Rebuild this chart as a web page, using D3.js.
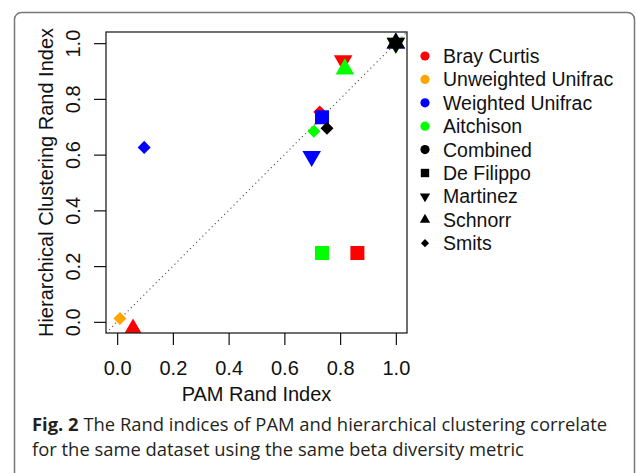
<!DOCTYPE html>
<html>
<head>
<meta charset="utf-8">
<script src="https://cdn.jsdelivr.net/npm/d3@7"></script>
<style>
  body { margin: 0; background: #fff; }
  svg { display: block; }
  text { font-family: "Liberation Sans", Arial, sans-serif; }
</style>
</head>
<body>
<svg id="chart"></svg>
<script>
// Rand index scatter - PAM vs hierarchical clustering

const width = 636;
const height = 473;

// Data
const metrics = ["Bray Curtis", "Unweighted Unifrac", "Weighted Unifrac", "Aitchison", "Combined"];
const metricColors = ["#ff0000", "#ffa500", "#0000ff", "#00ff00", "#000000"];
const methods = ["De Filippo", "Martinez", "Schnorr", "Smits"];
const methodShapes = ["square", "down", "up", "diamond"];

// one row per point: metric, method, PAM rand index, hierarchical rand index
const pointMetric = ["Bray Curtis", "Bray Curtis", "Bray Curtis", "Bray Curtis",
                     "Unweighted Unifrac",
                     "Weighted Unifrac", "Weighted Unifrac", "Weighted Unifrac", "Weighted Unifrac",
                     "Aitchison", "Aitchison", "Aitchison", "Aitchison",
                     "Combined", "Combined", "Combined"];
const pointMethod = ["De Filippo", "Martinez", "Schnorr", "Smits",
                     "Smits",
                     "De Filippo", "Martinez", "Schnorr", "Smits",
                     "De Filippo", "Martinez", "Schnorr", "Smits",
                     "Martinez", "Schnorr", "Smits"];
const pamRand = [0.862, 0.811, 0.057, 0.727,
                 0.010,
                 0.735, 0.698, 1.0, 0.097,
                 0.735, 1.0, 0.817, 0.706,
                 1.0, 1.0, 0.753];
const hierRand = [0.247, 0.937, -0.026, 0.753,
                  0.012,
                  0.734, 0.594, 1.0, 0.626,
                  0.247, 1.0, 0.907, 0.684,
                  1.0, 1.0, 0.695];

const xTicks = [0, 0.2, 0.4, 0.6, 0.8, 1.0];
const yTicks = [0, 0.2, 0.4, 0.6, 0.8, 1.0];

const points = pamRand.map((x, i) => ({
    x: x, y: hierRand[i], metric: pointMetric[i], method: pointMethod[i]
}));

// Layout
const plot = { left: 106, right: 407, top: 32, bottom: 333 };

const svg = d3.select("#chart")
    .attr("width", width)
    .attr("height", height);

// outer figure frame
svg.append("rect")
    .attr("x", 14.5).attr("y", 12.5)
    .attr("width", 620).attr("height", 520)
    .attr("rx", 7)
    .style("fill", "none")
    .style("stroke", "#777")
    .style("stroke-width", 1.5);

const x = d3.scaleLinear().domain([-0.04, 1.04]).range([plot.left, plot.right]);
const y = d3.scaleLinear().domain([-0.04, 1.04]).range([plot.bottom, plot.top]);

const colorOf = d3.scaleOrdinal().domain(metrics).range(metricColors);
const shapeOf = d3.scaleOrdinal().domain(methods).range(methodShapes);

// R-like marker paths; s = size factor
function markerPath(shape, s) {
    if (shape === "square") {
        return `M${-s},${-s}H${s}V${s}H${-s}Z`;
    }
    if (shape === "up" || shape === "down") {
        const r = s * 1.53, xc = r * Math.sqrt(3) / 2, yc = r / 2;
        const k = shape === "up" ? 1 : -1;
        return `M0,${-k * r}L${xc},${k * yc}L${-xc},${k * yc}Z`;
    }
    if (shape === "diamond") {
        const d = s * 0.93;
        return `M0,${-d}L${d},0L0,${d}L${-d},0Z`;
    }
    return d3.symbol(d3.symbolCircle, Math.PI * s * s)();
}

// clip region for plot
svg.append("clipPath").attr("id", "plotClip")
    .append("rect")
    .attr("x", plot.left).attr("y", plot.top)
    .attr("width", plot.right - plot.left)
    .attr("height", plot.bottom - plot.top);

const plotG = svg.append("g").attr("clip-path", "url(#plotClip)");

// identity line
plotG.append("line")
    .attr("x1", x(-0.04)).attr("y1", y(-0.04))
    .attr("x2", x(1.04)).attr("y2", y(1.04))
    .style("stroke", "#555")
    .style("stroke-width", 1.1)
    .style("stroke-dasharray", "1.2,3.2");

// points
plotG.selectAll(".pt")
    .data(points)
    .enter()
    .append("path")
    .attr("class", "pt")
    .attr("transform", d => `translate(${x(d.x)},${y(d.y)})`)
    .attr("d", d => markerPath(shapeOf(d.method), 7))
    .style("fill", d => colorOf(d.metric));

// plot box
svg.append("rect")
    .attr("x", plot.left).attr("y", plot.top)
    .attr("width", plot.right - plot.left)
    .attr("height", plot.bottom - plot.top)
    .style("fill", "none")
    .style("stroke", "#222")
    .style("stroke-width", 1.3);

// axes
const xAxis = svg.append("g")
    .attr("transform", `translate(0,${plot.bottom})`)
    .call(d3.axisBottom(x).tickValues(xTicks).tickFormat(d3.format(".1f")).tickSize(12).tickPadding(4));
xAxis.select(".domain").remove();
xAxis.selectAll("line").style("stroke", "#111").style("stroke-width", 1.2);
xAxis.selectAll("text")
    .attr("y", 42).attr("dy", null)
    .style("font-size", "20px")
    .style("font-family", "'Liberation Sans', Arial, sans-serif")
    .style("fill", "#111");

const yAxis = svg.append("g")
    .attr("transform", `translate(${plot.left},0)`)
    .call(d3.axisLeft(y).tickValues(yTicks).tickFormat(d3.format(".1f")).tickSize(12));
yAxis.select(".domain").remove();
yAxis.selectAll("line").style("stroke", "#111").style("stroke-width", 1.2);
yAxis.selectAll("text")
    .attr("x", null).attr("dy", null)
    .attr("text-anchor", "middle")
    .attr("transform", "translate(-26,0) rotate(-90)")
    .style("font-size", "20px")
    .style("font-family", "'Liberation Sans', Arial, sans-serif")
    .style("fill", "#111");

// axis titles
svg.append("text")
    .attr("x", (plot.left + plot.right) / 2)
    .attr("y", 401)
    .attr("text-anchor", "middle")
    .style("font-size", "20px")
    .style("fill", "#111")
    .text("PAM Rand Index");

svg.append("text")
    .attr("transform", `translate(53,${(plot.top + plot.bottom) / 2}) rotate(-90)`)
    .attr("text-anchor", "middle")
    .style("font-size", "20px")
    .style("fill", "#111")
    .text("Hierarchical Clustering Rand Index");

// legend
const legendItems = metrics.map((m, i) => ({ label: m, color: metricColors[i], shape: "circle" }))
    .concat(methods.map((m, i) => ({ label: m, color: "#000", shape: methodShapes[i] })));
const legendSize = { circle: 4.6, square: 4.2, up: 3.9, down: 3.9, diamond: 4.4 };

const legend = svg.append("g");
const rows = legend.selectAll(".legend-row")
    .data(legendItems)
    .enter()
    .append("g")
    .attr("class", "legend-row")
    .attr("transform", (d, i) => `translate(425,${56 + i * 23.4})`);

rows.append("path")
    .attr("d", d => markerPath(d.shape, legendSize[d.shape]))
    .style("fill", d => d.color);

rows.append("text")
    .attr("x", 18)
    .attr("y", 7)
    .style("font-size", "19.5px")
    .style("fill", "#111")
    .text(d => d.label);

// caption
const caption = svg.append("text")
    .attr("x", 32)
    .attr("y", 431)
    .style("font-family", "'Open Sans', 'Noto Sans', sans-serif")
    .style("font-size", "18.4px")
    .style("fill", "#231f20");
caption.append("tspan").style("font-weight", "bold").text("Fig. 2");
caption.append("tspan").text(" The Rand indices of PAM and hierarchical clustering correlate");

svg.append("text")
    .attr("x", 32)
    .attr("y", 456)
    .style("font-family", "'Open Sans', 'Noto Sans', sans-serif")
    .style("font-size", "18.4px")
    .style("fill", "#231f20")
    .text("for the same dataset using the same beta diversity metric");
</script>
</body>
</html>
